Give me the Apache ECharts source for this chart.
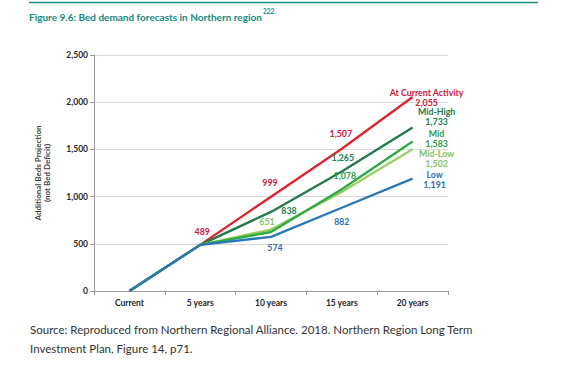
<!DOCTYPE html>
<html><head><meta charset="utf-8">
<script src="https://cdn.jsdelivr.net/npm/echarts@6/dist/echarts.min.js"></script>
<style>html,body{margin:0;padding:0;background:#fff}#c{width:579px;height:372px}</style>
</head><body><div id="c"></div>
<script>
// ---- data ----
const categories = ['Current', '5 years', '10 years', '15 years', '20 years'];
const yTicks = [0, 500, 1000, 1500, 2000, 2500];
const atCurrent = [0, 489, 999, 1507, 2055];
const midHigh   = [0, 489, 838, 1265, 1733];
const midLow    = [0, 489, 651, 1050, 1502];
const mid       = [0, 489, 625, 1078, 1583];
const low       = [0, 489, 574, 882, 1191];
const seriesNames = ['At Current Activity', 'Mid-High', 'Mid-Low', 'Mid', 'Low'];
const seriesValues = [atCurrent, midHigh, midLow, mid, low];

// ---- styles ----
const lineColors = ['#e2232b', '#1f7a4c', '#9acd5e', '#2eaa44', '#2878b8'];
const labelColors = ['#c8173a', '#217a4f', '#86c25e', '#2b9a3e', '#2f70b0'];
// label offsets (from point) for labelled points: index -> [dx, dy]
const labelOffsets = [
  {1: [2, -13], 2: [-1, -14], 3: [-1, -15], 4: [14, 0]},
  {2: [18, -1], 3: [1, -14], 4: [24, -10.5]},
  {2: [-4, -8], 4: [24, 9.5]},
  {3: [3, -14], 4: [24, -3.5]},
  {2: [4, 11], 3: [0, 14], 4: [22, 0.5]}
];
const FONT = 'Lato, "Liberation Sans", sans-serif';
const fmt = v => v.toLocaleString('en-US');

const series = seriesNames.map((name, si) => ({
  name: name,
  type: 'line',
  data: seriesValues[si].map((v, i) => {
    const off = labelOffsets[si][i];
    if (!off) return v;
    return {
      value: v,
      label: {
        show: true,
        position: 'inside',
        offset: off,
        color: labelColors[si],
        fontFamily: FONT,
        fontWeight: 'bold',
        fontSize: 8.8,
        lineHeight: 10,
        align: 'center',
        verticalAlign: 'middle',
        formatter: i === 4 ? (name + '\n' + fmt(v)) : fmt(v)
      }
    };
  }),
  symbol: 'circle',
  symbolSize: 1,
  showSymbol: true,
  itemStyle: {color: 'rgba(0,0,0,0)', borderWidth: 0},
  lineStyle: {color: lineColors[si], width: 2.3},
  emphasis: {disabled: true},
  animation: false,
  z: 2 + si
}));

const chart = echarts.init(document.getElementById('c'), null, {renderer: 'svg'});
chart.setOption({
  animation: false,
  grid: {left: 94, right: 131, top: 55, bottom: 81},
  xAxis: {
    type: 'category',
    data: categories,
    boundaryGap: true,
    axisLine: {lineStyle: {color: '#9a9a9a', width: 1}},
    axisTick: {show: true, length: 4, lineStyle: {color: '#9a9a9a'}},
    axisLabel: {color: '#262626', fontFamily: FONT, fontWeight: 'bold', fontSize: 8.5, margin: 7}
  },
  yAxis: {
    type: 'value',
    min: yTicks[0],
    max: yTicks[yTicks.length - 1],
    interval: yTicks[1] - yTicks[0],
    name: 'Additional Beds Projection\n(not Bed Deficit)',
    nameLocation: 'middle',
    nameRotate: 90,
    nameGap: 42,
    nameTextStyle: {color: '#404040', fontFamily: FONT, fontWeight: 'bold', fontSize: 8, lineHeight: 9.5},
    axisLine: {show: true, lineStyle: {color: '#9a9a9a', width: 1}},
    axisTick: {show: true, length: 4, lineStyle: {color: '#9a9a9a'}},
    axisLabel: {color: '#262626', fontFamily: FONT, fontWeight: 'bold', fontSize: 8.5, margin: 6, formatter: v => fmt(v)},
    splitLine: {show: true, lineStyle: {color: '#d9d9d9', width: 1}}
  },
  series: series,
  graphic: [
    {type: 'line', shape: {x1: 29, y1: 2.5, x2: 538, y2: 2.5}, style: {stroke: '#1b8a80', lineWidth: 1.5}},
    {type: 'text', left: 29, top: 12, style: {text: 'Figure 9.6: Bed demand forecasts in Northern region', fill: '#138a7f', font: 'bold 10px ' + FONT}},
    {type: 'text', left: 263, top: 8, style: {text: '222', fill: '#138a7f', font: 'bold 6.5px ' + FONT}},
    {type: 'text', left: 30, top: 320, style: {text: 'Source: Reproduced from Northern Regional Alliance. 2018. Northern Region Long Term\nInvestment Plan, Figure 14, p71.', fill: '#333333', font: '11.5px ' + FONT, lineHeight: 19}}
  ]
});
</script>
</body></html>
